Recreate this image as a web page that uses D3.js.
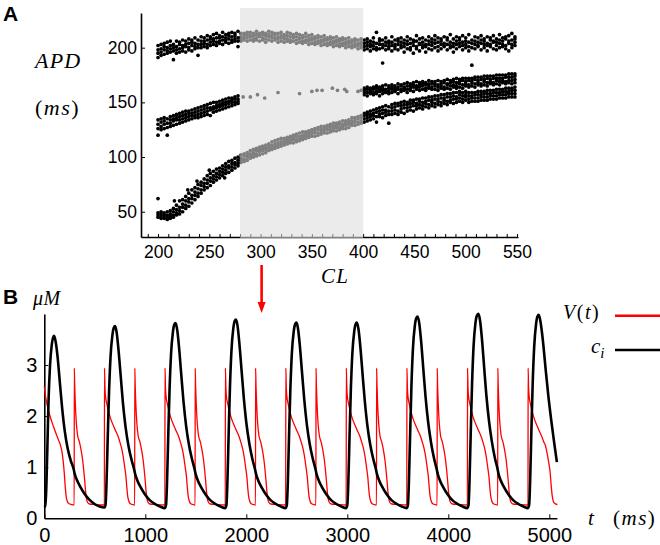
<!DOCTYPE html>
<html><head><meta charset="utf-8">
<script src="https://cdn.jsdelivr.net/npm/d3@7"></script>
<style>body{margin:0;background:#fff}svg{display:block}</style>
</head><body>
<svg id="chart" width="660" height="545"></svg>
<script>
// ---------- Panel A data: rows [CL, APD values...] ----------
const apdUpper = [
[200,191,195,198,202],[203,193,196,199,203],[206,194,198,201,204],[209,195,197,200,205],[212,196,199,202,206],
[215,189,197,200,203],[218,195,198,201,206],[221,196,199,203,205],[224,197,200,202,207],[227,196,201,203,206],
[230,198,200,204,208],[233,197,202,205,207],[236,199,201,204,209],[239,193,200,203,207],[242,200,203,206,210],
[245,201,204,206,209],[248,200,203,207,211],[251,202,205,208,210],[254,203,206,208,212],[257,202,205,209,213],
[260,204,206,209,211],[263,203,207,210,214],[266,205,207,209,212],[269,204,208,211,213],[272,205,207,210,214],
[275,206,208,211,213],[278,201,206,209,215],
[281,206,208,210,213],[284,207,209,211,213],[287,206,209,212,214],[290,207,210,211,214],[293,206,208,211,213],
[296,207,209,212,215],[299,206,210,211,213],[302,207,209,212,214],[305,205,208,211,213],[308,207,210,212,215],
[311,206,209,211,214],[314,207,209,212,213],[317,205,208,210,213],[320,206,209,211,214],[323,205,208,210,212],
[326,206,208,211,214],[329,205,207,210,213],[332,206,209,211,212],[335,204,207,210,213],[338,205,208,209,212],
[341,204,206,209,211],[344,205,207,210,213],[347,203,206,208,211],[350,204,207,209,212],[353,203,205,208,210],
[356,204,206,209,211],[359,202,205,207,210],[362,203,206,208,211],[365,202,204,207,209],[368,203,205,208,210],
[371,201,204,206,209],[374,202,205,207,210],[377,201,203,206,208],[380,202,204,207,209],[383,200,203,205,208],
[386,201,204,206,209],[389,200,202,205,207],[392,201,203,206,208],[395,199,202,204,207],[398,200,203,205,208],
[401,198,201,204,207],[404,199,202,205,208],[407,197,201,203,206],[410,199,202,205,209],[413,198,200,204,214],
[416,199,203,206,208],[419,186,200,203,207],[422,198,202,205,209],[425,199,201,204,206],[428,197,202,205,210],
[431,199,201,203,207],[434,198,203,206,208],[437,200,202,205,209],[440,196,201,204,207],[443,199,203,206,210],
[446,198,200,204,208],[449,195,202,205,207],[452,199,201,206,211],[455,197,203,204,208],[458,200,202,205,209],
[461,196,201,203,207],[464,199,203,206,210],[467,198,202,205,208],[470,200,204,207,211],[473,197,201,205,209],
[476,199,203,206,208],[479,201,202,204,210],[482,198,203,207,209],[485,200,202,205,212],[488,196,201,204,208],
[491,199,203,206,210],[494,201,204,207,209],[497,198,202,205,211],[500,200,203,206,209],[503,197,201,205,212],
[506,184,200,204,207],[509,199,203,206,210],[512,201,202,205,209],[515,198,204,207,211],[518,200,203,206,208],
[521,197,202,204,210],[524,201,203,207,209],[527,199,205,206,211],[530,198,202,205,208],[533,200,204,207,212],
[536,201,203,206,209],[539,199,202,208,210],[542,197,204,206,211],[545,200,203,207,213],[548,202,205,208,210]
];
const apdMiddle = [
[200,120,126,130,134],[203,125,128,132,135],[206,126,130,133,136],[209,120,127,131,135],[212,128,131,134,137],
[215,129,133,135,138],[218,130,134,136,139],[221,131,134,137,140],[224,132,135,138,141],[227,133,136,139,142],
[230,134,137,140,142],[233,135,138,140,143],[236,136,138,141,144],[239,136,139,142,145],[242,137,140,143,146],
[245,138,141,144,147],[248,139,142,145,148],[251,138,143,145,149],[254,141,144,146,150],[257,142,145,147,150],
[260,143,146,148,151],[263,144,147,149,152],[266,145,148,150,153],[269,146,149,151,154],[272,147,150,152,154],
[275,148,150,153,155],[278,149,151,153,156],
[283,155],[290,155],[297,157],[304,154],[317,159],[338,158],[350,160],[355,161],[360,161],[370,163],[375,161],
[382,162],[384,160],[395,160],[398,161],
[401,157,159,161,163],[404,156,159,162,164],[407,158,160,161,163],[410,157,159,162,164],[413,158,160,163,165],
[416,156,160,162,164],[419,158,161,163,165],[422,159,161,162,166],[425,158,160,163,165],[428,159,162,164,166],
[431,160,161,163,165],[434,158,162,164,167],[437,160,162,165,166],[440,161,163,164,167],[443,159,162,165,168],
[446,161,163,165,167],[449,160,164,166,168],[452,162,163,165,169],[455,161,164,166,168],[458,162,165,167,169],
[461,161,163,166,168],[464,163,165,167,170],[467,162,164,167,169],[470,162,165,167,169],[473,161,164,166,170],
[476,163,165,167,169],[479,162,164,168,170],[482,163,166,167,171],[485,162,165,168,170],[488,164,166,169,171],
[491,163,165,168,172],[494,164,167,169,171],[497,163,166,170,172],[500,165,167,169,172],[503,164,166,170,172],
[506,165,168,170,172],[509,164,167,171,173],[512,166,168,170,173],[515,165,167,171,173],[518,166,169,171,174],
[521,165,168,172,174],[524,167,169,171,174],[527,166,168,172,174],[530,167,170,172,175],[533,166,169,172,175],
[536,168,170,172,175],[539,167,169,173,175],[542,168,170,173,176],[545,167,170,173,176],[548,168,171,174,176]
];
const apdLower = [
[200,45,47,49,62],[203,44,46,48,50],[206,44,46,47,49],[209,43,45,47,50],[212,44,46,48,51],
[215,45,47,50,53],[216,60],[218,47,49,52,56],[221,48,51,54,60],[224,50,54,57,61],[227,53,56,60,64],[229,70],
[230,55,59,62,67],[233,58,62,65,70],[236,61,65,68,72],[238,78],[239,64,67,71,75],[242,67,70,74,77],
[245,70,73,76,80],[248,72,76,79,83],[250,88],[251,74,78,81,85],[254,77,80,83,87],[257,79,82,85,89],
[260,81,84,87,90],[263,83,86,89,92],[265,81],[266,85,88,91,94],[269,86,90,92,96],[272,88,91,94,97],
[275,90,93,95,99],[278,92,94,97,100],
[281,95,97,99,102],[284,96,98,101,103],[287,97,100,102,104],[290,99,101,103,106],[293,100,102,104,107],
[296,101,103,106,108],[299,102,105,107,109],[302,103,106,108,110],[305,104,107,109,111],[308,106,108,110,112],
[311,107,109,111,114],[314,108,110,112,115],[317,109,111,113,116],[320,110,112,114,117],[323,111,113,115,117],
[326,112,114,116,118],[329,113,115,117,119],[332,113,116,118,120],[335,114,116,119,121],[338,115,117,119,122],
[341,116,118,120,123],[344,117,119,121,123],[347,118,120,122,124],[350,119,121,123,125],[353,119,122,124,126],
[356,120,122,125,127],[359,121,123,125,128],[362,122,124,126,128],[365,122,125,127,129],[368,123,125,128,130],
[371,124,126,128,131],[374,124,127,129,131],[377,125,127,130,132],[380,126,128,130,133],[383,126,129,131,133],
[386,127,130,132,134],[389,129,131,133,136],[392,129,132,134,136],[395,130,132,135,137],[398,131,133,136,138],
[401,132,135,138,140],[404,133,136,139,141],[407,134,137,139,142],[410,135,138,140,143],[413,132,137,141,144],
[416,137,139,142,145],[419,136,140,143,146],[422,138,141,143,147],[425,131,139,142,146],[428,139,142,145,148],
[431,140,143,146,149],[434,139,142,147,149],[437,141,144,147,150],[440,140,145,148,151],[443,142,145,148,150],
[446,143,146,149,152],[449,142,147,150,152],[452,144,147,149,153],[455,145,148,151,153],[458,144,147,150,154],
[461,146,149,151,154],[464,145,148,152,155],[467,147,150,152,155],[470,146,149,153,156],[473,148,151,153,156],
[476,147,150,154,157],[479,149,152,154,157],[482,148,151,155,158],[485,150,152,155,158],[488,149,153,156,159],
[491,150,153,155,159],[494,151,154,157,160],[497,150,153,156,159],[500,152,155,157,160],
[503,150,153,156,159],[506,151,154,156,159],[509,151,154,157,159],[512,151,154,157,160],[515,152,155,157,160],
[518,152,155,158,160],[521,152,155,158,161],[524,153,156,158,161],[527,153,156,159,161],[530,153,156,159,162],
[533,154,157,159,162],[536,154,157,160,162],[539,154,157,160,163],[542,155,158,160,163],[545,155,158,161,163],
[548,155,158,161,164]
];
const clTicks = [200,250,300,350,400,450,500,550];
const apdTicks = [50,100,150,200];
const shadeRange = [280,400];
const arrowCL = 301;

// ---------- Panel B data: [t (ms), value] ----------
const vTrace = [
[0,2.58],[10,2.42],[25,2.25],[45,2.08],[90,1.8],[139,1.54],[160,1.43],[175,1.3],[188,1.1],[198,0.88],[208,0.6],[217,0.42],[228,0.33],[242,0.29],[270,0.27],[296,0.26],
[297,2.94],[301,2.6],[307,2.25],[317,1.87],[330,1.62],[347,1.5],[365,1.33],[379,1.15],[390,0.95],[400,0.74],[409,0.52],[417,0.39],[429,0.31],[447,0.28],[500,0.27],[595,0.26],
[596,2.94],[601,2.55],[608,2.36],[618,2.25],[650,1.99],[700,1.74],[731,1.6],[750,1.48],[768,1.35],[782,1.2],[796,1.0],[809,0.8],[818,0.58],[826,0.43],[838,0.33],[849,0.29],[871,0.27],[895,0.26],
[896,2.94],[900,2.6],[906,2.25],[916,1.87],[929,1.62],[946,1.5],[964,1.33],[978,1.15],[989,0.95],[999,0.74],[1008,0.52],[1016,0.39],[1028,0.31],[1046,0.28],[1100,0.27],[1194,0.26],
[1195,2.94],[1200,2.55],[1207,2.36],[1217,2.25],[1249,1.99],[1299,1.74],[1330,1.6],[1349,1.48],[1367,1.35],[1381,1.2],[1395,1.0],[1408,0.8],[1417,0.58],[1425,0.43],[1437,0.33],[1448,0.29],[1470,0.27],[1493,0.26],
[1494,2.94],[1498,2.6],[1504,2.25],[1514,1.87],[1527,1.62],[1544,1.5],[1562,1.33],[1576,1.15],[1587,0.95],[1597,0.74],[1606,0.52],[1614,0.39],[1626,0.31],[1644,0.28],[1700,0.27],[1792,0.26],
[1793,2.94],[1798,2.55],[1805,2.36],[1815,2.25],[1847,1.99],[1897,1.74],[1928,1.6],[1947,1.48],[1965,1.35],[1979,1.2],[1993,1.0],[2006,0.8],[2015,0.58],[2023,0.43],[2035,0.33],[2046,0.29],[2068,0.27],[2091,0.26],
[2092,2.94],[2096,2.6],[2102,2.25],[2112,1.87],[2125,1.62],[2142,1.5],[2160,1.33],[2174,1.15],[2185,0.95],[2195,0.74],[2204,0.52],[2212,0.39],[2224,0.31],[2242,0.28],[2300,0.27],[2390,0.26],
[2391,2.94],[2396,2.55],[2403,2.36],[2413,2.25],[2445,1.99],[2495,1.74],[2526,1.6],[2545,1.48],[2563,1.35],[2577,1.2],[2591,1.0],[2604,0.8],[2613,0.58],[2621,0.43],[2633,0.33],[2644,0.29],[2666,0.27],[2689,0.26],
[2690,2.94],[2694,2.6],[2700,2.25],[2710,1.87],[2723,1.62],[2740,1.5],[2758,1.33],[2772,1.15],[2783,0.95],[2793,0.74],[2802,0.52],[2810,0.39],[2822,0.31],[2840,0.28],[2900,0.27],[2989,0.26],
[2990,2.94],[2995,2.55],[3002,2.36],[3012,2.25],[3044,1.99],[3094,1.74],[3125,1.6],[3144,1.48],[3162,1.35],[3176,1.2],[3190,1.0],[3203,0.8],[3212,0.58],[3220,0.43],[3232,0.33],[3243,0.29],[3265,0.27],[3289,0.26],
[3290,2.94],[3294,2.6],[3300,2.25],[3310,1.87],[3323,1.62],[3340,1.5],[3358,1.33],[3372,1.15],[3383,0.95],[3393,0.74],[3402,0.52],[3410,0.39],[3422,0.31],[3440,0.28],[3500,0.27],[3589,0.26],
[3590,2.94],[3595,2.55],[3602,2.36],[3612,2.25],[3644,1.99],[3694,1.74],[3725,1.6],[3744,1.48],[3762,1.35],[3776,1.2],[3790,1.0],[3803,0.8],[3812,0.58],[3820,0.43],[3832,0.33],[3843,0.29],[3865,0.27],[3889,0.26],
[3890,2.94],[3894,2.6],[3900,2.25],[3910,1.87],[3923,1.62],[3940,1.5],[3958,1.33],[3972,1.15],[3983,0.95],[3993,0.74],[4002,0.52],[4010,0.39],[4022,0.31],[4040,0.28],[4100,0.27],[4189,0.26],
[4190,2.94],[4195,2.55],[4202,2.36],[4212,2.25],[4244,1.99],[4294,1.74],[4325,1.6],[4344,1.48],[4362,1.35],[4376,1.2],[4390,1.0],[4403,0.8],[4412,0.58],[4420,0.43],[4432,0.33],[4443,0.29],[4465,0.27],[4489,0.26],
[4490,2.94],[4494,2.6],[4500,2.25],[4510,1.87],[4523,1.62],[4540,1.5],[4558,1.33],[4572,1.15],[4583,0.95],[4593,0.74],[4602,0.52],[4610,0.39],[4622,0.31],[4640,0.28],[4700,0.27],[4789,0.26],
[4790,2.94],[4795,2.55],[4802,2.36],[4812,2.25],[4844,1.99],[4894,1.74],[4925,1.6],[4944,1.5],[4962,1.42],[4980,1.25],[4995,1.08],[5008,0.9],[5018,0.65],[5028,0.45],[5040,0.33],[5055,0.29],[5080,0.27]
];
const caTrace = [
[0,0.22],[8,0.24],[18,0.5],[30,1.35],[42,2.3],[57,3.0],[74,3.4],[88,3.54],[97,3.57],[112,3.46],[132,3.15],[153,2.68],[176,2.17],[203,1.7],[232,1.36],[262,1.13],[291,0.96],[301,0.87],[323,0.75],[358,0.61],[398,0.48],[448,0.36],[498,0.28],[548,0.23],[595,0.21],
[606,0.26],[616,0.7],[628,1.58],[641,2.47],[656,3.17],[674,3.58],[688,3.73],[701,3.76],[716,3.64],[734,3.31],[755,2.82],[778,2.27],[805,1.78],[834,1.41],[863,1.15],[889,0.96],[899,0.87],[921,0.74],[956,0.6],[996,0.47],[1046,0.35],[1096,0.28],[1146,0.23],[1194,0.2],
[1205,0.26],[1215,0.7],[1227,1.61],[1240,2.51],[1255,3.22],[1273,3.64],[1287,3.79],[1300,3.82],[1315,3.7],[1333,3.37],[1354,2.86],[1377,2.31],[1404,1.81],[1433,1.43],[1462,1.16],[1488,0.96],[1498,0.87],[1520,0.74],[1555,0.6],[1595,0.47],[1645,0.35],[1695,0.28],[1745,0.23],[1792,0.2],
[1803,0.26],[1813,0.72],[1825,1.64],[1838,2.56],[1853,3.28],[1871,3.71],[1885,3.86],[1898,3.89],[1913,3.77],[1931,3.43],[1952,2.92],[1975,2.36],[2002,1.84],[2031,1.45],[2060,1.16],[2086,0.96],[2096,0.87],[2118,0.74],[2153,0.6],[2193,0.47],[2243,0.35],[2293,0.28],[2343,0.23],[2390,0.2],
[2401,0.26],[2411,0.7],[2423,1.61],[2436,2.52],[2451,3.23],[2469,3.65],[2484,3.8],[2497,3.83],[2512,3.71],[2530,3.38],[2551,2.87],[2574,2.32],[2601,1.81],[2630,1.43],[2659,1.16],[2685,0.96],[2695,0.87],[2717,0.74],[2752,0.6],[2792,0.47],[2842,0.35],[2892,0.28],[2942,0.23],[2989,0.2],
[3000,0.26],[3010,0.7],[3022,1.61],[3035,2.52],[3050,3.23],[3068,3.65],[3082,3.8],[3094,3.83],[3110,3.71],[3128,3.38],[3149,2.87],[3172,2.32],[3199,1.81],[3228,1.43],[3257,1.16],[3283,0.96],[3293,0.87],[3315,0.74],[3350,0.6],[3390,0.47],[3440,0.35],[3490,0.28],[3540,0.23],[3589,0.2],
[3600,0.26],[3610,0.73],[3622,1.66],[3635,2.6],[3650,3.33],[3668,3.76],[3683,3.92],[3697,3.95],[3712,3.82],[3730,3.48],[3751,2.96],[3774,2.39],[3801,1.87],[3830,1.47],[3859,1.17],[3885,0.96],[3895,0.87],[3917,0.74],[3952,0.6],[3992,0.47],[4042,0.35],[4092,0.28],[4142,0.23],[4189,0.2],
[4200,0.26],[4210,0.74],[4222,1.68],[4235,2.63],[4250,3.37],[4268,3.81],[4284,3.97],[4299,4.0],[4314,3.87],[4332,3.53],[4353,3.0],[4376,2.42],[4403,1.9],[4432,1.49],[4461,1.18],[4487,0.97],[4497,0.87],[4519,0.74],[4554,0.6],[4594,0.47],[4644,0.35],[4694,0.28],[4744,0.23],[4789,0.2],
[4800,0.26],[4810,0.73],[4822,1.68],[4835,2.62],[4850,3.35],[4868,3.79],[4882,3.95],[4896,3.98],[4913,3.84],[4935,3.5],[4962,2.95],[4990,2.4],[5020,1.9],[5048,1.48],[5075,1.1]
];
const tTicks = [0,1000,2000,3000,4000,5000];
const muTicks = [0,1,2,3];

// ---------- drawing ----------
const svg = d3.select('#chart');
const SANS = 'Liberation Sans, Arial, Helvetica, sans-serif';
const SERIF = 'Liberation Serif, Times New Roman, serif';
const fmt = d3.format('d');

// Panel A
const xA = d3.scaleLinear().domain([183.4, 551]).range([141, 518]);
const yA = d3.scaleLinear().domain([26.9, 231.7]).range([237, 13]);

const gA = svg.append('g');
const flat = rows => rows.flatMap(r => r.slice(1).map(v => [r[0], v]));
const pts = [...flat(apdUpper), ...flat(apdMiddle), ...flat(apdLower)];

const axA_x = gA.append('g').attr('transform', 'translate(0,237)')
  .call(d3.axisBottom(xA).tickValues(d3.range(190, 551, 10)).tickSize(-3).tickSizeOuter(0).tickPadding(8.5)
    .tickFormat(d => clTicks.includes(d) ? fmt(d) : ''));
const axA_y = gA.append('g').attr('transform', 'translate(141,0)')
  .call(d3.axisLeft(yA).tickValues(apdTicks).tickSize(-4).tickSizeOuter(0).tickPadding(4).tickFormat(fmt));

gA.append('g').selectAll('circle').data(pts).join('circle')
  .attr('cx', d => xA(d[0])).attr('cy', d => yA(d[1])).attr('r', 1.85).attr('fill', '#000');

// shaded window drawn on top (semi-transparent so underlying marks appear grey)
gA.append('rect')
  .attr('x', xA(shadeRange[0])).attr('width', xA(shadeRange[1]) - xA(shadeRange[0]))
  .attr('y', 8).attr('height', 237 - 8 + 1)
  .attr('fill', 'rgb(220,220,220)').attr('fill-opacity', 0.58);

// Panel B
const xB = d3.scaleLinear().domain([0, 5075]).range([44.3, 556.9]);
const yB = d3.scaleLinear().domain([0, 4]).range([518.3, 313.9]);
const gB = svg.append('g');
const axB_x = gB.append('g').attr('transform', 'translate(0,518.3)')
  .call(d3.axisBottom(xB).tickValues(tTicks).tickSize(-4).tickSizeOuter(0).tickPadding(9.5).tickFormat(fmt));
const axB_y = gB.append('g').attr('transform', 'translate(44.3,0)')
  .call(d3.axisLeft(yB).tickValues(muTicks).tickSize(-4).tickSizeOuter(0).tickPadding(7).tickFormat(fmt));

const line = d3.line().x(d => xB(d[0])).y(d => yB(d[1])).curve(d3.curveMonotoneX);
gB.append('path').datum(vTrace).attr('d', line).attr('fill', 'none').attr('stroke', '#ff0000').attr('stroke-width', 1.3);
gB.append('path').datum(caTrace).attr('d', line).attr('fill', 'none').attr('stroke', '#000').attr('stroke-width', 2.6).attr('stroke-linejoin', 'round');

// axis styling
[axA_x, axA_y].forEach(a => { a.selectAll('text').attr('font-family', SANS).attr('font-size', 17.5).attr('fill', '#000'); });
[axB_x, axB_y].forEach(a => { a.selectAll('text').attr('font-family', SANS).attr('font-size', 20).attr('fill', '#000'); });
[axA_x, axA_y, axB_x, axB_y].forEach(a => {
  a.select('.domain').attr('stroke', '#000').attr('stroke-width', 1.6);
  a.selectAll('.tick line').attr('stroke', '#000').attr('stroke-width', 1);
});
axB_y.selectAll('.tick').filter(d => d === 0).select('line').remove();

// ---------- text ----------
const txt = (x, y, s, opts = {}) => svg.append('text').attr('x', x).attr('y', y)
  .attr('font-family', opts.family || SERIF).attr('font-size', opts.size || 20)
  .attr('font-style', opts.style || 'normal').attr('font-weight', opts.weight || 'normal')
  .attr('letter-spacing', opts.ls || 0).attr('fill', '#000').text(s);

txt(3, 21, 'A', {family: SANS, size: 21, weight: 'bold'});
txt(3, 304, 'B', {family: SANS, size: 21, weight: 'bold'});
txt(35, 68, 'APD', {size: 22, style: 'italic', ls: 1.2});
const ms1 = txt(35, 115, '', {size: 22, ls: 1.5});
ms1.append('tspan').text('(');
ms1.append('tspan').attr('font-style', 'italic').text('ms');
ms1.append('tspan').text(')');
txt(321, 283, 'CL', {size: 21, style: 'italic', ls: 1.2});
txt(33, 305, 'μM', {size: 20, style: 'italic', ls: 0.5});

// legend
const vt = txt(563, 319, '', {size: 20, ls: 1.5});
vt.append('tspan').attr('font-style', 'italic').text('V');
vt.append('tspan').text('(');
vt.append('tspan').attr('font-style', 'italic').text('t');
vt.append('tspan').text(')');
svg.append('line').attr('x1', 615).attr('x2', 660).attr('y1', 315.7).attr('y2', 315.7).attr('stroke', '#ff0000').attr('stroke-width', 2.6);
const ci = txt(591, 353, '', {size: 21});
ci.append('tspan').attr('font-style', 'italic').text('c');
ci.append('tspan').attr('font-style', 'italic').attr('font-size', 15).attr('dy', 5).text('i');
svg.append('line').attr('x1', 615).attr('x2', 660).attr('y1', 350).attr('y2', 350).attr('stroke', '#000').attr('stroke-width', 2.6);

txt(588, 525, 't', {size: 21, style: 'italic'});
const ms2 = txt(613, 525, '', {size: 21, ls: 1.5});
ms2.append('tspan').text('(');
ms2.append('tspan').attr('font-style', 'italic').text('ms');
ms2.append('tspan').text(')');

// red arrow
const ax = xA(arrowCL);
svg.append('line').attr('x1', ax).attr('x2', ax).attr('y1', 265).attr('y2', 304).attr('stroke', '#ff0000').attr('stroke-width', 2.6);
svg.append('path').attr('d', `M${ax-4},302 L${ax+4},302 L${ax},313 Z`).attr('fill', '#ff0000');
</script>
</body></html>
